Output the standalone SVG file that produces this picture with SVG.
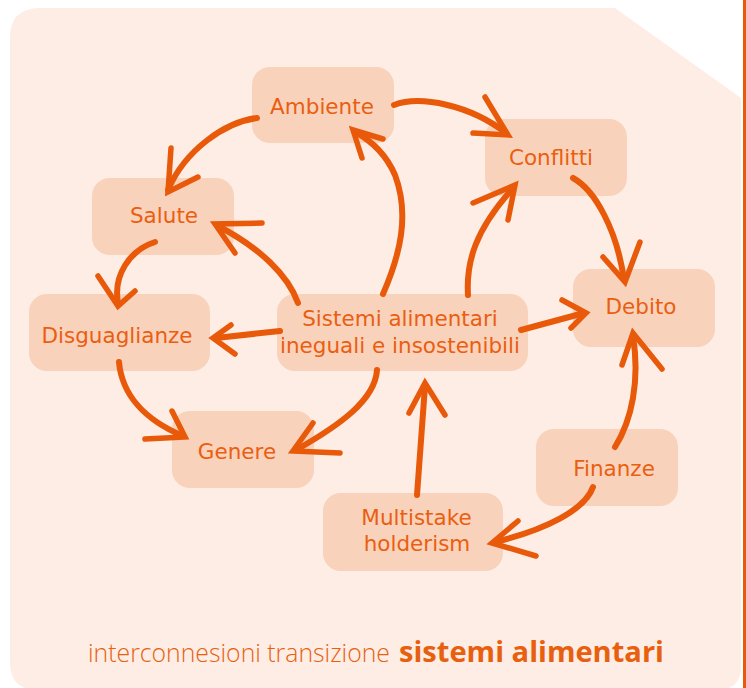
<svg xmlns="http://www.w3.org/2000/svg" width="746" height="688" viewBox="0 0 746 688">
<style>
.node rect{fill:#f9d2bc}
.node text{font-family:"DejaVu Sans",sans-serif;font-size:21.5px;fill:#ea5e10;text-anchor:middle}
.arr{fill:none;stroke:#e8590a;stroke-width:6;stroke-linecap:round;stroke-linejoin:round}
.head{fill:none;stroke:#e8590a;stroke-width:5.5;stroke-linecap:round;stroke-linejoin:miter}
.cap{font-family:"Open Sans",sans-serif;fill:#e8600f}
</style>
<rect x="0" y="0" width="746" height="688" fill="#ffffff"/>
<path d="M40,8 L615,8 L741,98 L741,666 Q741,690 717,690 L38,690 Q10,690 10,662 L10,38 Q10,8 40,8 Z" fill="#fdede4"/>
<rect x="743" y="0" width="3" height="688" fill="#e8590a"/>

<g id="n-ambiente" class="node"><rect x="252" y="67" width="142" height="76" rx="18"/><text x="322" y="114">Ambiente</text></g>
<g id="n-salute" class="node"><rect x="92" y="178" width="142" height="77" rx="18"/><text x="164" y="223">Salute</text></g>
<g id="n-conflitti" class="node"><rect x="485" y="119" width="142" height="77" rx="18"/><text x="551" y="165">Conflitti</text></g>
<g id="n-debito" class="node"><rect x="573" y="269" width="142" height="78" rx="18"/><text x="641" y="314">Debito</text></g>
<g id="n-finanze" class="node"><rect x="536" y="429" width="142" height="77" rx="18"/><text x="614" y="476">Finanze</text></g>
<g id="n-disuguaglianze" class="node"><rect x="29" y="294" width="181" height="77" rx="18"/><text x="117" y="343">Disguaglianze</text></g>
<g id="n-genere" class="node"><rect x="172" y="411" width="142" height="77" rx="18"/><text x="237" y="459">Genere</text></g>
<g id="n-sistemi" class="node"><rect x="277" y="294" width="251" height="77" rx="18"/><text x="400" y="326">Sistemi alimentari</text><text x="400" y="353">ineguali e insostenibili</text></g>
<g id="n-multi" class="node"><rect x="323" y="493" width="180" height="78" rx="18"/><text x="416.5" y="525">Multistake</text><text x="417" y="551">holderism</text></g>

<g id="connectors">
<g id="e-amb-sal"><path class="arr" d="M257,118 C225,122 185,150 168,190"/><path class="head" d="M171,148 L168,192 L198,177"/></g>
<g id="e-sis-amb"><path class="arr" d="M383,294 C400,255 410,215 395,175 C385,152 370,140 355,132"/><path class="head" d="M362,158 L353,130 L383,139"/></g>
<g id="e-sis-sal"><path class="arr" d="M298,303 C288,275 260,248 218,226"/><path class="head" d="M262,223 L215,224 L235,253"/></g>
<g id="e-amb-con"><path class="arr" d="M394,105 C420,95 470,105 506,133"/><path class="head" d="M485,97 L508,135 L473,133"/></g>
<g id="e-sis-con"><path class="arr" d="M468,295 C466,262 475,230 514,187"/><path class="head" d="M473,203 L515,185 L508,220"/></g>
<g id="e-con-deb"><path class="arr" d="M573,178 C595,190 617,230 624,280"/><path class="head" d="M603,257 L625,282 L640,242"/></g>
<g id="e-sis-deb"><path class="arr" d="M521,330 L584,313"/><path class="head" d="M562,300 L586,313 L571,328"/></g>
<g id="e-fin-deb"><path class="arr" d="M615,447 C632,420 640,380 633,336"/><path class="head" d="M622,365 L633,333 L662,369"/></g>
<g id="e-fin-mul"><path class="arr" d="M593,487 C585,510 545,530 495,542"/><path class="head" d="M518,521 L492,543 L536,556"/></g>
<g id="e-mul-sis"><path class="arr" d="M417,495 L425,386"/><path class="head" d="M409,413 L425,383 L445,415"/></g>
<g id="e-sis-gen"><path class="arr" d="M377,370 C375,400 340,425 296,450"/><path class="head" d="M313,423 L293,451 L340,453"/></g>
<g id="e-sis-dis"><path class="arr" d="M280,331 L216,338"/><path class="head" d="M231,325 L213,338 L235,354"/></g>
<g id="e-sal-dis"><path class="arr" d="M155,242 C130,250 113,275 118,303"/><path class="head" d="M98,276 L118,306 L135,291"/></g>
<g id="e-dis-gen"><path class="arr" d="M119,362 C122,395 145,420 183,436"/><path class="head" d="M172,411 L185,437 L145,439"/></g>
</g>

<text class="cap" y="662"><tspan x="88" font-weight="300" font-size="26" textLength="302" lengthAdjust="spacingAndGlyphs">interconnesioni transizione</tspan><tspan x="399" font-weight="700" font-size="28" textLength="265" lengthAdjust="spacingAndGlyphs">sistemi alimentari</tspan></text>
</svg>
